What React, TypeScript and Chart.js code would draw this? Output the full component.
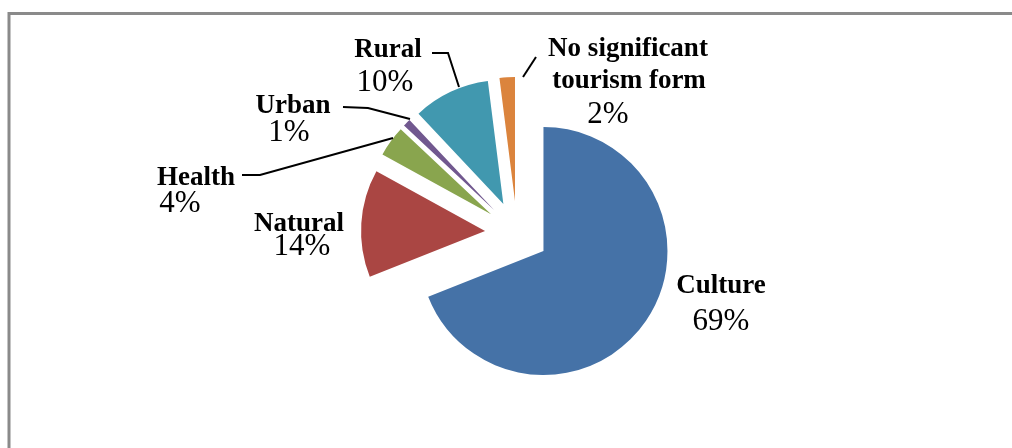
import React, { useEffect, useRef } from "react";
import { Chart, registerables } from "chart.js";

Chart.register(...registerables);

// ---- data ----
const categories = ["Culture", "Natural", "Health", "Urban", "Rural", "No significant tourism form"];
const shares = [69, 14, 4, 1, 10, 2];
const sliceColors = ["#4572A7", "#AA4643", "#89A54E", "#71588F", "#4198AF", "#DB843D"];
const nameLines = [["Culture"], ["Natural"], ["Health"], ["Urban"], ["Rural"], ["No significant", "tourism form"]];

// ---- label layout (offsets relative to the pie centre) ----
const nameOffsets = [
  [[204, 60]],
  [[-218, -2]],
  [[-321, -48]],
  [[-224, -120]],
  [[-129, -176]],
  [[111, -177], [112, -145]],
];
const pctOffsets = [
  [204, 97],
  [-215, 22],
  [-337, -21],
  [-228, -92],
  [-132, -142],
  [91, -110],
];
const leaderLines = [
  null,
  null,
  [[-275, -58], [-257, -58], [-124, -95]],
  [[-174, -126], [-149, -125], [-107, -114]],
  [[-85, -180], [-69, -180], [-58, -146]],
  [[19, -176], [6, -156]],
];

const framePlugin = {
  id: "frame",
  beforeDraw(chart: any) {
    const ctx = chart.ctx;
    ctx.save();
    ctx.strokeStyle = "#8a8a8a";
    ctx.lineWidth = 3;
    ctx.strokeRect(9, 13.5, 1200, 800);
    ctx.restore();
  },
};

const explodePlugin = {
  id: "explode",
  beforeDatasetDraw(chart: any, args: any, opts: any) {
    const meta = chart.getDatasetMeta(args.index);
    const ctx = chart.ctx;
    const d = opts.distance || 0;
    meta.data.forEach((arc: any) => {
      const mid = (arc.startAngle + arc.endAngle) / 2;
      ctx.save();
      ctx.translate(Math.cos(mid) * d, Math.sin(mid) * d);
      arc.draw(ctx);
      ctx.restore();
    });
    return false;
  },
};

const labelPlugin = {
  id: "sliceLabels",
  afterDraw(chart: any) {
    const meta = chart.getDatasetMeta(0);
    const ctx = chart.ctx;
    const cx = meta.data[0].x;
    const cy = meta.data[0].y;
    ctx.save();
    ctx.strokeStyle = "#000";
    ctx.lineWidth = 2;
    leaderLines.forEach((pts) => {
      if (!pts) return;
      ctx.beginPath();
      pts.forEach(([x, y], i) => {
        if (i === 0) ctx.moveTo(cx + x, cy + y);
        else ctx.lineTo(cx + x, cy + y);
      });
      ctx.stroke();
    });
    ctx.fillStyle = "#000";
    ctx.textAlign = "center";
    ctx.textBaseline = "alphabetic";
    categories.forEach((_, i) => {
      ctx.font = "bold 27px 'Liberation Serif', 'Times New Roman', serif";
      nameLines[i].forEach((line, j) => {
        const [ox, oy] = nameOffsets[i][j];
        ctx.fillText(line, cx + ox, cy + oy);
      });
      ctx.font = "31px 'Liberation Serif', 'Times New Roman', serif";
      const [px, py] = pctOffsets[i];
      ctx.fillText(shares[i] + "%", cx + px, cy + py);
    });
    ctx.restore();
  },
};

export default function App() {
  const canvasRef = useRef<HTMLCanvasElement | null>(null);

  useEffect(() => {
    if (!canvasRef.current) return;
    const chart = new Chart(canvasRef.current, {
      type: "pie",
      data: {
        labels: categories,
        datasets: [
          {
            data: shares,
            backgroundColor: sliceColors,
            borderWidth: 0,
          },
        ],
      },
      options: {
        animation: false,
        responsive: false,
        radius: 124,
        layout: { padding: { left: 22, right: 0, top: 18, bottom: 0 } },
        plugins: {
          legend: { display: false },
          tooltip: { enabled: false },
          explode: { distance: 32 },
        } as any,
      },
      plugins: [framePlugin, explodePlugin, labelPlugin],
    });
    return () => chart.destroy();
  }, []);

  return (
    <div style={{ position: "absolute", left: 0, top: 0, width: 1012, height: 448, background: "#fff" }}>
      <canvas ref={canvasRef} width={1012} height={448} style={{ display: "block", width: 1012, height: 448 }} />
    </div>
  );
}
